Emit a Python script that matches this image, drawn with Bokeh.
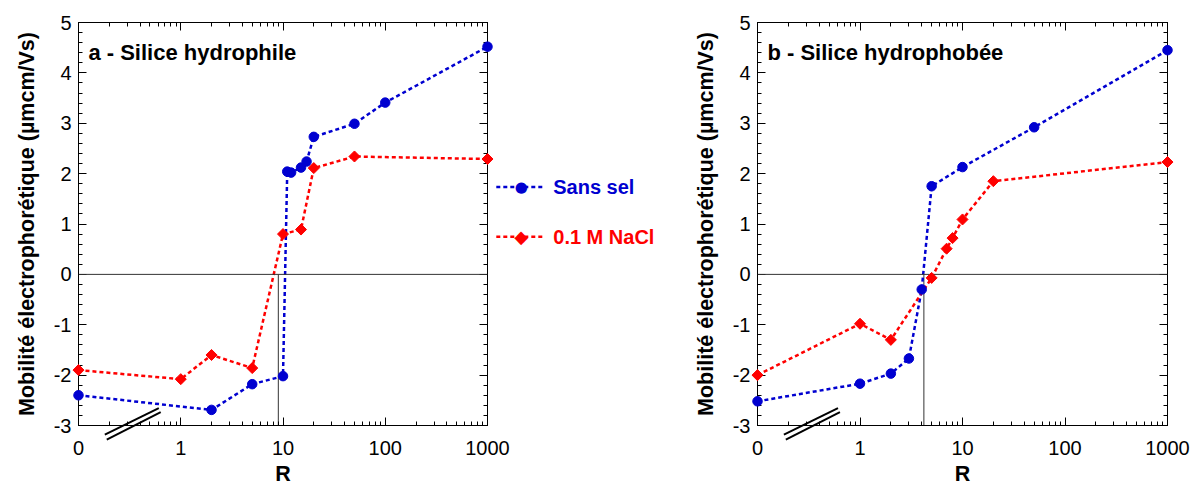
import numpy as np
from bokeh.plotting import figure
from bokeh.layouts import row
from bokeh.models import (Range1d, LogAxis, LinearAxis, FixedTicker,
                          SingleIntervalTicker, Span, Label, PrintfTickFormatter)
from bokeh.core.properties import value
from bokeh.embed import file_html
from bokeh.resources import INLINE

FONT = "Liberation Sans"
BLUE = "#0000D0"
RED = "#FF0000"

# ---------------- data ----------------
x_tick_values = [0.1, 1, 10, 100, 1000]
x_tick_labels = ["0", "1", "10", "100", "1000"]
ZERO_POS = 0.1  # where R = 0 is drawn on the broken log axis

# panel a - Silice hydrophile
ra_blue = [0, 2, 5, 10, 11, 12, 15, 17, 20, 50, 100, 1000]
ma_blue = [-2.40, -2.69, -2.18, -2.02, 2.04, 2.02, 2.12, 2.24, 2.73, 2.99, 3.41, 4.52]
ra_red = [0, 1, 2, 5, 10, 15, 20, 50, 1000]
ma_red = [-1.90, -2.08, -1.60, -1.86, 0.80, 0.89, 2.11, 2.34, 2.29]
iep_a = 9.0

# panel b - Silice hydrophobée
rb_blue = [0, 1, 2, 3, 4, 5, 10, 50, 1000]
mb_blue = [-2.52, -2.17, -1.97, -1.67, -0.30, 1.75, 2.13, 2.92, 4.45]
rb_red = [0, 1, 2, 5, 7, 8, 10, 20, 1000]
mb_red = [-2.00, -0.98, -1.30, -0.07, 0.51, 0.72, 1.09, 1.85, 2.23]
iep_b = 4.2

series_names = ["Sans sel", "0.1 M NaCl"]
titles = ["a - Silice hydrophile", "b - Silice hydrophobée"]
y_title = "Mobilité électrophorétique (µmcm/Vs)"
x_title = "R"


def rpos(r):
    return [ZERO_POS if v == 0 else v for v in r]


minor_x = [k * 10.0 ** e for e in range(-1, 3) for k in range(2, 10)]


def style_axis(ax, labels=True):
    ax.major_tick_in = 8
    ax.major_tick_out = 0
    ax.minor_tick_in = 4
    ax.minor_tick_out = 0
    ax.axis_line_color = "black"
    ax.major_tick_line_color = "black"
    ax.minor_tick_line_color = "black"
    ax.axis_line_width = 1
    if labels:
        ax.major_label_text_font = FONT
        ax.major_label_text_font_size = "20px"
        ax.major_label_text_color = "black"
        ax.axis_label_text_font = FONT
        ax.axis_label_text_font_size = "21.5px"
        ax.axis_label_text_font_style = "bold"
        ax.axis_label_text_color = "black"
    else:
        ax.major_label_text_font_size = "1px"
        ax.major_label_text_alpha = 0
        ax.major_label_standoff = 0


def make_panel(width, bl, br, title, rbx, mby, rrx, mry, iep):
    p = figure(width=width, height=488, x_axis_type="log",
               x_range=Range1d(0.1, 1000), y_range=Range1d(-3, 5),
               output_backend="svg", toolbar_location=None,
               min_border_left=bl, min_border_right=br,
               min_border_top=22, min_border_bottom=61)
    p.grid.visible = False
    p.outline_line_color = "black"
    p.background_fill_color = "white"
    p.border_fill_color = "white"

    xt = FixedTicker(ticks=x_tick_values, minor_ticks=minor_x)
    yt = SingleIntervalTicker(interval=1, num_minor_ticks=5)
    overrides = {v: l for v, l in zip(x_tick_values, x_tick_labels)}

    bx = p.xaxis[0]
    bx.ticker = xt
    bx.major_label_overrides = overrides
    bx.axis_label = x_title
    style_axis(bx)
    bx.major_label_standoff = 15
    bx.axis_label_standoff = 4

    ly = p.yaxis[0]
    ly.ticker = yt
    ly.formatter = PrintfTickFormatter(format="%d")
    ly.axis_label = y_title
    style_axis(ly)
    ly.major_label_standoff = 7
    ly.axis_label_standoff = 12

    tx = LogAxis(ticker=xt)
    style_axis(tx, labels=False)
    p.add_layout(tx, "above")
    ry = LinearAxis(ticker=yt)
    style_axis(ry, labels=False)
    p.add_layout(ry, "right")

    p.add_layout(Span(location=0, dimension="width", line_color="#333333", line_width=1))
    p.segment(x0=[iep], y0=[-3], x1=[iep], y1=[0], line_color="#333333", line_width=1)

    # axis break marks
    p.line([0.181, 0.610], [-3.18, -2.654], line_color="black", line_width=2, level="overlay")
    p.line([0.189, 0.637], [-3.28, -2.733], line_color="black", line_width=2, level="overlay")

    p.line(rpos(rbx), mby, line_color=BLUE, line_width=2.5, line_dash="4 3")
    p.scatter(rpos(rbx), mby, marker="circle", size=9.5, color=BLUE, level="overlay")
    p.line(rpos(rrx), mry, line_color=RED, line_width=2.5, line_dash="4 3")
    p.scatter(rpos(rrx), mry, marker="square", angle=np.pi / 4, size=7.8,
              color=RED, level="overlay")

    p.add_layout(Label(x=0.125, y=4.41, text=title, text_font=FONT,
                       text_font_size="22px", text_font_style="bold",
                       text_color="black", text_baseline="alphabetic"))
    return p


pa = make_panel(688, 78, 201, titles[0], ra_blue, ma_blue, ra_red, ma_red, iep_a)
pb = make_panel(505, 69, 26, titles[1], rb_blue, mb_blue, rb_red, mb_red, iep_b)

# legend drawn beside panel a (outside its frame, in data units of panel a)
leg_rows = [(series_names[0], BLUE, "\u25CF", "15px", 1.733),
            (series_names[1], RED, "\u25C6", "18px", 0.745)]
for name, col, sym, sym_size, yy in leg_rows:
    pa.line([1219, 3673], [yy, yy], line_color=col, line_width=2.5,
            line_dash="4 3", level="overlay")
    pa.text([2138], [yy], text=[sym], text_font=value("DejaVu Sans"),
            text_font_size=sym_size, text_color=col, text_baseline="middle",
            text_align="center", level="overlay")
    pa.text([4396], [yy], text=[name], text_font=value(FONT), text_font_size="20px",
            text_font_style="bold", text_color=col, text_baseline="middle",
            text_align="left", level="overlay")

layout = row(pa, pb)
open("out.html", "w").write(file_html(layout, INLINE))
